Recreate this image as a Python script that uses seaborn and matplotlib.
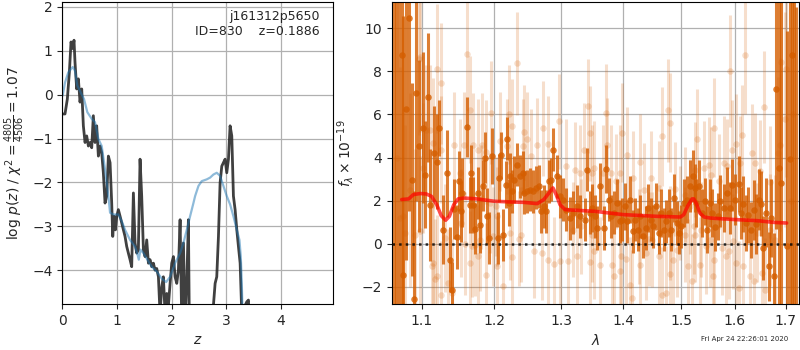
# Redshift fit figure: log p(z) on the left, 1D spectrum + model on the right
import numpy as np
import pandas as pd
import matplotlib
matplotlib.use("Agg")
import matplotlib.pyplot as plt
import seaborn as sns
from matplotlib.ticker import NullLocator, FixedLocator, FixedFormatter

# ==================== DATA ====================
# p(z) curve (dark) and smoothed template curve (blue)
z_pz = [0.007, 0.049, 0.092, 0.129, 0.159, 0.190, 0.214, 0.232, 0.263, 0.294,
        0.324, 0.355, 0.385, 0.416, 0.446, 0.477, 0.507, 0.538, 0.568, 0.599,
        0.629, 0.660, 0.690, 0.721, 0.751, 0.782, 0.813, 0.843, 0.874, 0.904,
        0.923, 0.947, 0.972, 0.996, 1.026, 1.057, 1.087, 1.118, 1.148, 1.179,
        1.209, 1.240, 1.270, 1.301, 1.331, 1.362, 1.392, 1.423, 1.453, 1.484,
        1.515, 1.545, 1.576, 1.606, 1.637, 1.667, 1.698, 1.728, 1.759, 1.789,
        1.820, 1.850, 1.881, 1.912, 1.942, 1.973, 2.003, 2.034, 2.064, 2.095,
        2.125, 2.156, 2.186, 2.217, 2.247, 2.278, 2.308, 2.327, 2.40, 2.55,
        2.70, 2.766, 2.797, 2.827, 2.858, 2.888, 2.919, 2.949, 2.980, 3.010,
        3.041, 3.071, 3.102, 3.132, 3.163, 3.194, 3.224, 3.255, 3.285, 3.31,
        3.346, 3.377, 3.407, 3.425, 3.50]
logp_pz = [-0.44, -0.44, -0.10, 0.51, 1.20, 1.05, 1.24, 0.74, 0.13, 0.36,
           -0.17, 0.13, -0.71, -1.09, -0.94, -1.17, -1.09, -1.21, -0.48, -1.09,
           -0.71, -1.40, -1.17, -1.32, -1.78, -2.47, -2.31, -1.40, -1.55, -2.47,
           -3.23, -2.77, -3.08, -2.77, -2.62, -2.77, -2.92, -3.08, -3.23, -3.46,
           -3.61, -3.76, -3.92, -2.24, -3.38, -3.61, -3.53, -1.47, -2.31, -3.53,
           -3.69, -3.31, -3.84, -3.76, -3.92, -3.84, -4.00, -3.96, -4.15, -5.00,
           -4.38, -4.15, -5.00, -4.53, -4.80, -4.30, -3.84, -3.69, -4.15, -4.30,
           -4.00, -2.85, -5.20, -3.38, -5.20, -4.30, -2.85, -5.50, -7.00, -8.00,
           -6.00, -4.80, -4.30, -4.15, -3.23, -2.01, -1.63, -1.55, -1.47, -1.78,
           -1.47, -0.71, -0.94, -2.31, -2.62, -3.08, -3.46, -3.84, -5.00, -7.00,
           -4.80, -4.72, -4.68, -5.20, -9.00]

z_tmpl = [0.007, 0.050, 0.110, 0.190, 0.230, 0.275, 0.336, 0.397, 0.458, 0.538,
          0.599, 0.660, 0.721, 0.782, 0.843, 0.874, 0.935, 1.026, 1.087, 1.148,
          1.240, 1.331, 1.370, 1.400, 1.430, 1.484, 1.557, 1.637, 1.728, 1.820,
          1.900, 1.973, 2.064, 2.156, 2.217, 2.278, 2.339, 2.400, 2.431, 2.492,
          2.553, 2.644, 2.705, 2.766, 2.827, 2.888, 2.949, 3.010, 3.071, 3.132,
          3.194, 3.242, 3.267, 3.285, 3.304, 3.35]
logp_tmpl = [-0.02, 0.28, 0.51, 0.63, 0.55, 0.21, 0.05, -0.10, -0.40, -0.55,
             -0.63, -1.01, -1.17, -1.70, -2.31, -2.69, -2.73, -2.73, -2.88, -3.08,
             -3.31, -3.46, -3.61, -3.76, -3.53, -3.61, -3.76, -3.92, -4.03, -4.19,
             -4.27, -4.15, -3.84, -3.61, -3.38, -3.08, -2.77, -2.47, -2.31, -2.08,
             -1.97, -1.93, -1.89, -1.82, -1.78, -1.85, -2.08, -2.31, -2.50, -2.77,
             -3.08, -3.31, -3.69, -4.30, -5.20, -8.00]

# binned spectrum (dark orange)
wave_bin = [1.064, 1.067, 1.070, 1.074, 1.076, 1.080, 1.083, 1.087, 1.090, 1.093,
            1.096, 1.102, 1.104, 1.108, 1.111, 1.116, 1.120, 1.123, 1.128, 1.134,
            1.138, 1.140, 1.143, 1.147, 1.150, 1.153, 1.155, 1.161, 1.165, 1.167,
            1.170, 1.173, 1.176, 1.179, 1.184, 1.186, 1.189, 1.192, 1.196,
            1.2045, 1.207, 1.210, 1.212, 1.216, 1.218, 1.221, 1.223, 1.226, 1.229,
            1.233, 1.237, 1.241, 1.243, 1.248, 1.252, 1.256, 1.261, 1.266, 1.269,
            1.273, 1.277, 1.281, 1.284, 1.287, 1.293, 1.298, 1.303, 1.308, 1.313,
            1.318, 1.325, 1.330, 1.337, 1.341, 1.346,
            1.349, 1.353, 1.357, 1.361, 1.368, 1.372, 1.376, 1.380, 1.384, 1.389,
            1.394, 1.397, 1.403, 1.407, 1.412, 1.416, 1.420, 1.424, 1.429, 1.434,
            1.438, 1.442, 1.447, 1.451, 1.455, 1.461, 1.465, 1.470, 1.474, 1.478,
            1.483, 1.487, 1.492, 1.496, 1.500, 1.505, 1.511, 1.517, 1.521,
            1.525, 1.528, 1.533, 1.539, 1.543, 1.548, 1.553, 1.557, 1.563, 1.567,
            1.572, 1.579, 1.584, 1.590, 1.594, 1.600, 1.607, 1.611, 1.616, 1.622,
            1.626, 1.632, 1.636, 1.641, 1.646, 1.651, 1.655, 1.661, 1.666, 1.671,
            1.676, 1.681, 1.686, 1.690, 1.703, 1.708, 1.712, 1.718, 1.722]
flux_bin = [14.0, -6.0, 12.0, 8.74, -1.44, 6.26, 10.5, 2.98, -2.57, 7.0,
            4.53, 5.38, 3.21, 6.8, 1.81, 4.2, 3.80, 5.35, 0.65, 3.26,
            -0.74, -2.14, 1.6, 0.31, 2.9, 1.50, 2.36, 5.43, 1.81, 3.3,
            1.81, 0.7, 2.36, 0.87, 2.70, 4.0, 1.30, 0.25, 4.06,
            0.26, 3.05, 4.1, 0.42, 2.74, 4.87, 1.9, 3.13, 2.43, 2.98,
            3.67, 3.13, 3.29, 2.36, 2.43, 2.51, 2.43, 2.59, 2.67, 1.50,
            1.74, 1.50, 2.90, 2.98, 4.37, 3.13, 2.20, 2.05, 1.58, 1.19,
            1.43, 1.74, 1.27, 1.12, 3.44, 1.43,
            1.66, 1.27, 0.73, 2.67, 0.73, 3.47, 2.05, 1.27, 1.43, 1.89,
            1.04, 1.12, 1.74, 1.04, 2.05, 0.57, 1.12, 0.65, 1.27, 0.34,
            0.73, 1.66, 1.12, 0.81, 1.74, 0.50, 1.43, 0.65, 1.04, 1.43,
            0.65, 2.12, 0.96, 0.50, 0.81, 1.89, 2.05, 2.67, 3.13,
            2.59, 1.89, 2.67, 1.43, 1.97, 0.65, 1.89, 1.43, 0.78, 1.27,
            1.97, 1.66, 2.36, 1.66, 2.74, 2.05, 2.79, 1.43, 1.86, 0.96,
            1.35, 0.65, 1.58, 0.93, 2.05, 1.86, -0.20, 1.43, -1.05, 1.19,
            -1.52, 7.19, 3.5, 2.82, -0.12, 3.94, 8.74, 12.0, -4.0]
err_bin = [20, 18, 16, 12, 12, 7, 9, 4.5, 5, 5,
           4, 3.5, 2.5, 3, 2.6, 2.2, 2.2, 1.3, 1.6, 2.0,
           1.5, 1.3, 1.4, 1.5, 1.4, 1.4, 1.6, 1.4, 1.3, 1.3,
           1.3, 1.2, 1.2, 1.3, 1.2, 1.2, 1.3, 1.2, 1.3,
           1.2, 1.1, 1.1, 1.2, 1.1, 1.0, 1.1, 1.1, 1.0, 1.1,
           1.0, 1.0, 1.0, 1.0, 1.0, 1.0, 1.0, 1.0, 1.0, 1.0,
           1.0, 1.0, 1.0, 1.0, 1.0, 1.0, 1.0, 1.0, 1.0, 1.0,
           1.0, 1.0, 1.0, 1.0, 1.0, 1.0,
           1.1, 1.0, 1.0, 1.1, 1.0, 1.1, 1.0, 1.0, 1.0, 1.1,
           1.0, 1.0, 1.1, 1.0, 1.1, 1.0, 1.0, 1.0, 1.0, 1.0,
           1.0, 1.1, 1.0, 1.0, 1.1, 1.0, 1.1, 1.0, 1.0, 1.1,
           1.0, 1.1, 1.0, 1.0, 1.0, 1.1, 1.1, 1.2, 1.2,
           1.1, 1.1, 1.2, 1.1, 1.1, 1.1, 1.1, 1.1, 1.1, 1.1,
           1.2, 1.1, 1.2, 1.2, 1.2, 1.2, 1.3, 1.2, 1.3, 1.3,
           1.3, 1.3, 1.4, 1.4, 1.4, 1.5, 1.5, 1.6, 1.6, 1.8,
           2.0, 6.5, 9, 12, 10, 12, 14, 16, 15]

# unbinned spectrum (light orange)
wave_raw = [1.068, 1.072, 1.076, 1.078, 1.085, 1.091, 1.096, 1.098, 1.098, 1.102,
            1.106, 1.111, 1.113, 1.115, 1.115, 1.117, 1.120, 1.120, 1.126, 1.126,
            1.126, 1.131, 1.135, 1.140, 1.144, 1.151, 1.153, 1.157, 1.159, 1.161,
            1.165, 1.165, 1.168, 1.170, 1.172, 1.176, 1.176, 1.179, 1.181, 1.182,
            1.188, 1.188, 1.193, 1.195,
            1.198, 1.202, 1.203, 1.203, 1.208, 1.213, 1.218, 1.221, 1.223, 1.226,
            1.226, 1.233, 1.236, 1.238, 1.242, 1.243, 1.247, 1.253, 1.258, 1.263,
            1.271, 1.272, 1.279, 1.279, 1.289, 1.296, 1.298, 1.308, 1.310, 1.319,
            1.321, 1.325, 1.330, 1.331, 1.335, 1.342, 1.345, 1.345, 1.349, 1.352,
            1.349, 1.352, 1.362, 1.367, 1.372, 1.373, 1.380, 1.381, 1.384, 1.387,
            1.394, 1.395, 1.396, 1.397, 1.405, 1.407, 1.412, 1.415, 1.417, 1.426,
            1.429, 1.429, 1.435, 1.438, 1.444, 1.448, 1.449, 1.461, 1.461, 1.467,
            1.467, 1.474, 1.477, 1.481, 1.481, 1.481, 1.486, 1.490, 1.493, 1.499,
            1.508, 1.508, 1.512, 1.517, 1.519,
            1.523, 1.525, 1.526, 1.529, 1.534, 1.536, 1.542, 1.545, 1.551, 1.553,
            1.555, 1.559, 1.560, 1.560, 1.569, 1.575, 1.579, 1.583, 1.585, 1.589,
            1.591, 1.594, 1.596, 1.602, 1.602, 1.607, 1.610, 1.613, 1.616, 1.620,
            1.630, 1.633, 1.636, 1.639, 1.643, 1.648, 1.653, 1.656, 1.659, 1.669,
            1.669, 1.679, 1.684, 1.689, 1.690, 1.699, 1.701, 1.710, 1.716]
flux_raw = [4.0, 1.2, 1.27, 0.50, 2.51, 0.42, 8.56, 8.68, 0.57, 3.52,
            5.30, 5.30, -1.05, 4.68, -0.90, -1.64, 8.12, -1.49, 7.44, 4.37,
            -2.37, 0.28, -1.83, -2.29, 4.56, 3.29, 0.96, 4.56, 0.00, 8.79,
            6.23, -0.90, -0.09, 4.59, -0.05, 4.34, -0.59, 0.19, 2.17, 4.59,
            4.25, -1.44, 1.89, 6.08,
            0.34, 1.74, 1.27, -1.02, 4.76, -1.98, 4.53, 6.00, 0.50, 5.46,
            -0.64, 8.37, 0.23, 0.42, 4.53, 5.18, 4.84, 4.06, -0.33, 4.56,
            -0.43, 5.35, 4.65, -0.74, -0.95, 5.69, -0.82, 3.60, -0.82, 0.65,
            3.44, -0.59, 3.29, 0.81, 4.34, 6.39, 5.12, -0.87, 0.42, 3.52,
            3.29, -0.36, -0.98, 3.29, 6.05, 4.57, 3.29, -0.98, -1.52, 2.90,
            -1.29, 3.29, -0.59, 5.15, -0.71, 4.14, -1.91, -2.50, 3.05, 0.34,
            3.80, -0.98, 2.48, -0.43, 0.22, 3.05, 0.19, 2.59, -0.59, 4.99,
            -2.37, -2.29, 6.19, 5.61, -1.40, 0.50, -0.74, 2.54, -0.28, 1.43,
            2.28, 0.42, -1.05, 1.74, -1.75,
            0.81, 0.42, 3.44, 4.87, -0.98, 0.65, 3.52, -0.12, 3.67, 0.19,
            3.21, -1.49, 5.38, -0.74, 2.90, -0.20, 3.75, -0.59, 3.60, -0.36,
            8.02, 4.37, 0.11, 4.65, -0.90, -2.06, 3.75, 5.07, -1.05, 8.74,
            -1.52, 4.19, -1.75, 3.75, 0.50, 3.36, -1.36, 6.36, -2.14, 2.85,
            0.65, 0.19, 4.22, 4.60, 8.43, 5.77, 8.12, 2.0, 6.0]
err_raw = [8, 7, 5, 5, 4.5, 4, 3.5, 3.5, 3.5, 3,
           3, 3, 3, 3, 3, 2.8, 3, 2.8, 2.8, 2.5,
           2.5, 2.5, 2.5, 2.5, 2.5, 2.5, 2.5, 2.5, 2.4, 2.6,
           2.5, 2.4, 2.4, 2.4, 2.4, 2.4, 2.4, 2.4, 2.4, 2.4,
           2.4, 2.4, 2.3, 2.4,
           2.3, 2.3, 2.3, 2.3, 2.3, 2.3, 2.2, 2.3, 2.2, 2.2,
           2.2, 2.4, 2.2, 2.2, 2.2, 2.2, 2.2, 2.2, 2.2, 2.2,
           2.2, 2.2, 2.2, 2.2, 2.2, 2.2, 2.2, 2.2, 2.2, 2.2,
           2.2, 2.2, 2.2, 2.2, 2.2, 2.2, 2.2, 2.2, 2.2, 2.2,
           2.2, 2.2, 2.2, 2.2, 2.3, 2.2, 2.2, 2.2, 2.2, 2.2,
           2.2, 2.2, 2.2, 2.3, 2.2, 2.2, 2.2, 2.2, 2.2, 2.2,
           2.2, 2.2, 2.2, 2.2, 2.2, 2.2, 2.2, 2.2, 2.2, 2.3,
           2.2, 2.2, 2.4, 2.3, 2.2, 2.2, 2.2, 2.2, 2.2, 2.2,
           2.2, 2.2, 2.2, 2.2, 2.2,
           2.2, 2.2, 2.2, 2.3, 2.2, 2.2, 2.2, 2.2, 2.2, 2.2,
           2.2, 2.2, 2.3, 2.2, 2.2, 2.2, 2.2, 2.2, 2.2, 2.2,
           2.6, 2.3, 2.2, 2.3, 2.2, 2.2, 2.2, 2.3, 2.3, 2.7,
           2.3, 2.3, 2.3, 2.3, 2.3, 2.4, 2.4, 2.6, 2.4, 2.6,
           2.6, 3, 3.5, 4, 4, 5, 5, 8, 10]

# best-fit model
wave_model = [1.074, 1.083, 1.089, 1.098, 1.106, 1.113, 1.120, 1.126, 1.132, 1.137,
              1.143, 1.149, 1.157, 1.175, 1.200, 1.223, 1.243, 1.263, 1.273, 1.281,
              1.287, 1.292, 1.298, 1.306, 1.325, 1.354, 1.400, 1.458, 1.499, 1.505,
              1.512, 1.520, 1.523, 1.528, 1.534, 1.542, 1.554, 1.600, 1.643, 1.676,
              1.702]
flux_model = [2.05, 2.08, 2.28, 2.33, 2.31, 2.20, 1.81, 1.30, 1.09, 1.27,
              1.81, 2.08, 2.12, 2.08, 1.97, 1.94, 1.92, 1.86, 2.05, 2.36,
              2.59, 2.28, 1.81, 1.58, 1.55, 1.50, 1.35, 1.27, 1.24, 1.35,
              1.74, 2.08, 2.08, 1.86, 1.43, 1.24, 1.19, 1.12, 1.07, 0.99,
              0.96]

wave_ticks = [1.1, 1.2, 1.3, 1.4, 1.5, 1.6, 1.7]
wave_ticklabels = ["1.1", "1.2", "1.3", "1.4", "1.5", "1.6", "1.7"]

root_name = "j161312p5650"
obj_id = 830
z_best = 0.1886
chi2_num, chi2_den = 4805, 4506
timestamp = "Fri Apr 24 22:26:01 2020"
# ==============================================

G141_COLOR = "#D55E00"

sns.set_style("ticks", {"axes.grid": True, "grid.color": "#b0b0b0",
                        "axes.edgecolor": "black"})
plt.rcParams["font.family"] = ["DejaVu Sans"]

pz = pd.DataFrame({"z": z_pz, "logp": logp_pz})
tmpl = pd.DataFrame({"z": z_tmpl, "logp": logp_tmpl})
binned = pd.DataFrame({"wave": wave_bin, "flux": flux_bin, "err": err_bin})
raw = pd.DataFrame({"wave": wave_raw, "flux": flux_raw, "err": err_raw})
model = pd.DataFrame({"wave": wave_model, "flux": flux_model})

fig = plt.figure(figsize=(8, 3.5), dpi=100)
ax1 = fig.add_axes([0.0779, 0.1314, 0.3387, 0.8615])
ax2 = fig.add_axes([0.4896, 0.1314, 0.5095, 0.8615])

# ---- left: log p(z)
sns.lineplot(data=pz, x="z", y="logp", ax=ax1, color="#2b2b2b", alpha=0.9,
             linewidth=2.0, estimator=None, sort=False)
sns.lineplot(data=tmpl, x="z", y="logp", ax=ax1, color="tab:blue", alpha=0.5,
             linewidth=1.6, estimator=None, sort=False)
ax1.set_xlim(0, 4.96)
ax1.set_ylim(-4.77, 2.1)
ax1.set_xticks([0, 1, 2, 3, 4])
ax1.set_yticks([-4, -3, -2, -1, 0, 1, 2])
ax1.set_xlabel("$z$")
ax1.set_ylabel(r"log $p(z)$ / $\chi^2=\frac{%d}{%d}=%.2f$"
               % (chi2_num, chi2_den, chi2_num / chi2_den))
ax1.text(0.95, 0.975, f"{root_name}\nID={obj_id}    z={z_best:.4f}",
         transform=ax1.transAxes, ha="right", va="top", fontsize=9)
ax1.grid(True, color="#b0b0b0", linewidth=0.9)

# ---- right: spectrum
ax2.set_xscale("log")
ax2.errorbar(raw["wave"], raw["flux"], yerr=raw["err"], fmt="none",
             ecolor=G141_COLOR, alpha=0.2, elinewidth=2.2)
sns.scatterplot(data=raw, x="wave", y="flux", ax=ax2, color=G141_COLOR,
                alpha=0.2, s=22, linewidth=0)
ax2.errorbar(binned["wave"], binned["flux"], yerr=binned["err"], fmt="none",
             ecolor=G141_COLOR, alpha=0.8, elinewidth=2.2)
sns.scatterplot(data=binned, x="wave", y="flux", ax=ax2, color=G141_COLOR,
                alpha=0.8, s=22, linewidth=0)
sns.lineplot(data=model, x="wave", y="flux", ax=ax2, color="red", alpha=0.7,
             linewidth=2.6, estimator=None, sort=False)
ax2.axhline(0, color="black", linestyle=":", linewidth=1.8, alpha=0.8)

ax2.set_xlim(1.0612, 1.728)
ax2.set_ylim(-2.8, 11.2)
ax2.xaxis.set_major_locator(FixedLocator(wave_ticks))
ax2.xaxis.set_major_formatter(FixedFormatter(wave_ticklabels))
ax2.xaxis.set_minor_locator(NullLocator())
ax2.set_yticks([-2, 0, 2, 4, 6, 8, 10])
ax2.set_xlabel(r"$\lambda$")
ax2.set_ylabel(r"$f_\lambda\times10^{-19}$")
ax2.grid(True, color="#b0b0b0", linewidth=0.9)

for ax in (ax1, ax2):
    for sp in ax.spines.values():
        sp.set_visible(True)
        sp.set_color("black")
    ax.tick_params(labelsize=10)

fig.text(0.985, 0.031, timestamp, ha="right", va="center", fontsize=5)

fig.savefig("out.png", dpi=100)
plt.close(fig)
